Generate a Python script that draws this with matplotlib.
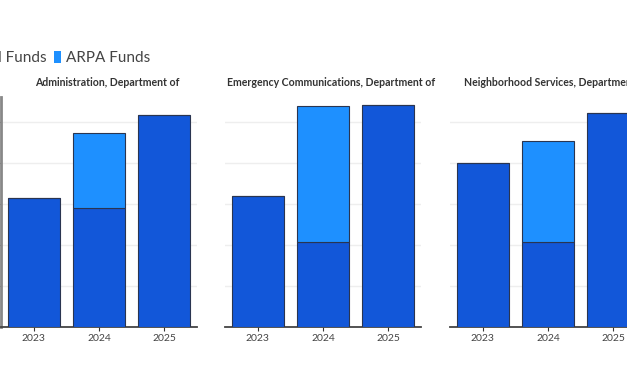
import numpy as np
import matplotlib.pyplot as plt
from matplotlib.patches import Patch

# Data ------------------------------------------------------------------

years = ["2023", "2024", "2025"]
departments = ["Administration, Department of",
               "Emergency Communications, Department of",
               "Neighborhood Services, Department of"]

# values in $M (axis labels are cropped)
general_funds = [[3.15, 2.90, 5.17],
                 [3.20, 2.07, 5.41],
                 [4.00, 2.07, 5.20]]
arpa_funds = [[0.0, 1.83, 0.0],
              [0.0, 3.30, 0.0],
              [0.0, 2.47, 0.0]]

dark_blue = "#1257d9"
light_blue = "#1e90ff"

# Plot ------------------------------------------------------------------

plt.rcParams["font.family"] = ["Lato", "DejaVu Sans"]

W, H = 627, 376
fig = plt.figure(figsize=(W / 100, H / 100), dpi=100)

lefts = [1, 225, 450]
x = np.arange(len(years))

for i, dept in enumerate(departments):
    ax = fig.add_axes([lefts[i] / W, 49 / H, 196 / W, 230 / H])
    ax.bar(x, general_funds[i], width=0.8, color=dark_blue,
           edgecolor="#2a3550", linewidth=0.8, zorder=3)
    ax.bar(x, arpa_funds[i], width=0.8, bottom=general_funds[i],
           color=light_blue, edgecolor="#2a3550", linewidth=0.8, zorder=3)

    ax.set_xlim(-0.5, 2.5)
    ax.set_ylim(0, 5.6)
    ax.set_yticks([0, 1, 2, 3, 4, 5])
    ax.grid(axis="y", color="#eeeeee", linewidth=1, zorder=0)

    ax.set_xticks(x)
    ax.set_xticklabels(years, fontsize=7.5, color="#444444")
    ax.tick_params(axis="x", length=3, width=0.8, color="#333333", pad=2)

    for s in ["top", "right"]:
        ax.spines[s].set_visible(False)
    ax.spines["bottom"].set_color("#444444")
    ax.spines["bottom"].set_linewidth(1.3)

    if i == 0:
        ax.spines["left"].set_color("#888888")
        ax.spines["left"].set_linewidth(2)
        ax.tick_params(axis="y", length=3, color="#555555", labelleft=False)
    else:
        ax.spines["left"].set_visible(False)
        ax.tick_params(axis="y", length=0, labelleft=False)

    ax.set_title(dept, fontsize=7.6, fontweight="bold", color="#333333",
                 x=0.54, pad=8)

handles = [Patch(facecolor=dark_blue, label="General Funds"),
           Patch(facecolor=light_blue, label="ARPA Funds")]
fig.legend(handles=handles, loc="center left", ncol=2, frameon=False,
           bbox_to_anchor=(-76 / W, 1 - 58 / H), fontsize=11,
           handlelength=0.45, handleheight=0.9, handletextpad=0.3,
           columnspacing=0.5, labelcolor="#444444")

fig.savefig("out.png", dpi=100)
